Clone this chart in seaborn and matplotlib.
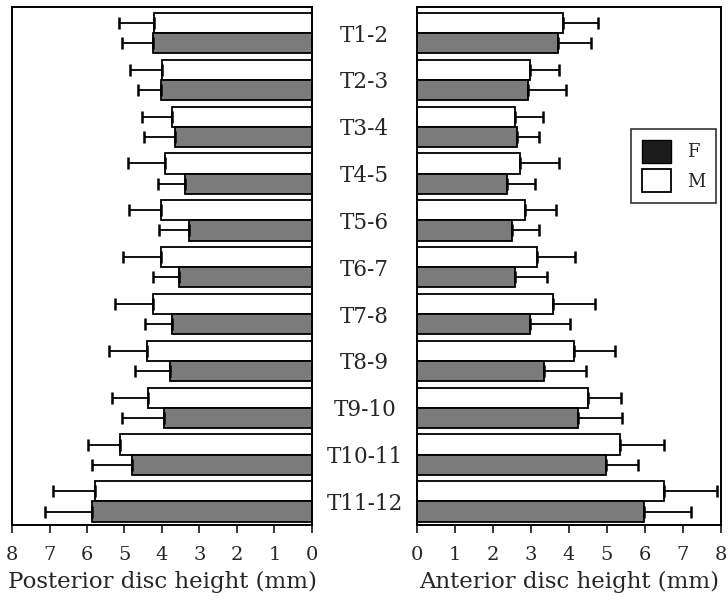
import pandas as pd
import numpy as np
import matplotlib
matplotlib.use('Agg')
import matplotlib.pyplot as plt
from matplotlib.patches import Patch
import seaborn as sns

# ─────────────────────────────────────────────
# Data (mm)
# ─────────────────────────────────────────────
levels = ['T1-2', 'T2-3', 'T3-4', 'T4-5', 'T5-6', 'T6-7',
          'T7-8', 'T8-9', 'T9-10', 'T10-11', 'T11-12']

post_m = [4.21, 4.00, 3.74, 3.92, 4.02, 4.02, 4.24, 4.41, 4.36, 5.11, 5.79]
post_m_sd = [0.94, 0.85, 0.78, 0.99, 0.85, 1.03, 1.00, 1.00, 0.96, 0.85, 1.12]
post_f = [4.23, 4.02, 3.64, 3.39, 3.29, 3.55, 3.73, 3.78, 3.95, 4.79, 5.87]
post_f_sd = [0.83, 0.63, 0.84, 0.72, 0.79, 0.68, 0.73, 0.95, 1.12, 1.07, 1.25]

ant_m = [3.83, 2.97, 2.59, 2.70, 2.85, 3.16, 3.57, 4.13, 4.50, 5.35, 6.51]
ant_m_sd = [0.94, 0.78, 0.73, 1.05, 0.81, 0.99, 1.12, 1.07, 0.86, 1.16, 1.39]
ant_f = [3.70, 2.91, 2.64, 2.38, 2.50, 2.58, 2.98, 3.35, 4.23, 4.98, 5.98]
ant_f_sd = [0.88, 1.00, 0.57, 0.73, 0.71, 0.83, 1.06, 1.10, 1.17, 0.84, 1.22]

SEXES = ['M', 'F']
COLORS = {'M': 'white', 'F': '#7b7b7b'}
SERIF = ['DejaVu Serif']


def long_table(m, m_sd, f, f_sd):
    rows = []
    for i, lev in enumerate(levels):
        rows.append({'level': lev, 'sex': 'M', 'value': m[i], 'sd': m_sd[i]})
        rows.append({'level': lev, 'sex': 'F', 'value': f[i], 'sd': f_sd[i]})
    return pd.DataFrame(rows)


df_post = long_table(post_m, post_m_sd, post_f, post_f_sd)
df_ant = long_table(ant_m, ant_m_sd, ant_f, ant_f_sd)

sns.set_style('white')
plt.rcParams['font.family'] = SERIF

fig = plt.figure(figsize=(7.28, 6.04), dpi=100)
ax_l = fig.add_axes([0.0165, 0.131, 0.412, 0.857])
ax_r = fig.add_axes([0.5728, 0.131, 0.4175, 0.857])


def draw_panel(ax, data):
    sns.barplot(data=data, y='level', x='value', hue='sex',
                order=levels, hue_order=SEXES, palette=COLORS,
                orient='h', errorbar=None, width=0.86, dodge=True,
                edgecolor='black', linewidth=1.3, legend=False, ax=ax)
    # one-sided SD bars
    for sex, cont in zip(SEXES, ax.containers):
        sub = data[data['sex'] == sex].set_index('level').loc[levels]
        ys = [p.get_y() + p.get_height() / 2 for p in cont.patches]
        ax.errorbar(sub['value'].values, ys,
                    xerr=[np.zeros(len(ys)), sub['sd'].values],
                    fmt='none', ecolor='black', elinewidth=1.3,
                    capsize=4.5, capthick=1.8)
    ax.set_ylim(len(levels) - 0.5, -0.55)
    ax.set_xticks(range(0, 9))
    ax.tick_params(axis='x', direction='out', length=6, width=1.3,
                   labelsize=14, pad=9, bottom=True)
    ax.tick_params(axis='y', length=0)
    ax.set_ylabel('')
    for s in ax.spines.values():
        s.set_visible(True)
        s.set_color('black')
        s.set_linewidth(1.4)


draw_panel(ax_l, df_post)
draw_panel(ax_r, df_ant)

# left panel runs from 8 down to 0
ax_l.set_xlim(8, 0)
ax_r.set_xlim(0, 8)

# level names sit in the gap between the panels
ax_l.yaxis.tick_right()
ax_l.tick_params(axis='y', pad=38)
for lab in ax_l.get_yticklabels():
    lab.set_horizontalalignment('center')
    lab.set_fontsize(15.5)
ax_r.set_yticklabels([])

ax_l.set_xlabel('Posterior disc height (mm)', fontsize=16.5, labelpad=5)
ax_r.set_xlabel('Anterior disc height (mm)', fontsize=16.5, labelpad=5)

handles = [Patch(facecolor='#1c1c1c', edgecolor='black', label='F'),
           Patch(facecolor='white', edgecolor='black', linewidth=1.3, label='M')]
leg = ax_r.legend(handles=handles, loc='upper right',
                  bbox_to_anchor=(0.985, 0.765), borderaxespad=0,
                  frameon=True, fancybox=False,
                  edgecolor='black', fontsize=13, handlelength=1.6,
                  handleheight=1.6, handletextpad=0.9, borderpad=0.6,
                  labelspacing=0.35)
leg.get_frame().set_linewidth(1.2)

plt.savefig('out.png', dpi=100)
